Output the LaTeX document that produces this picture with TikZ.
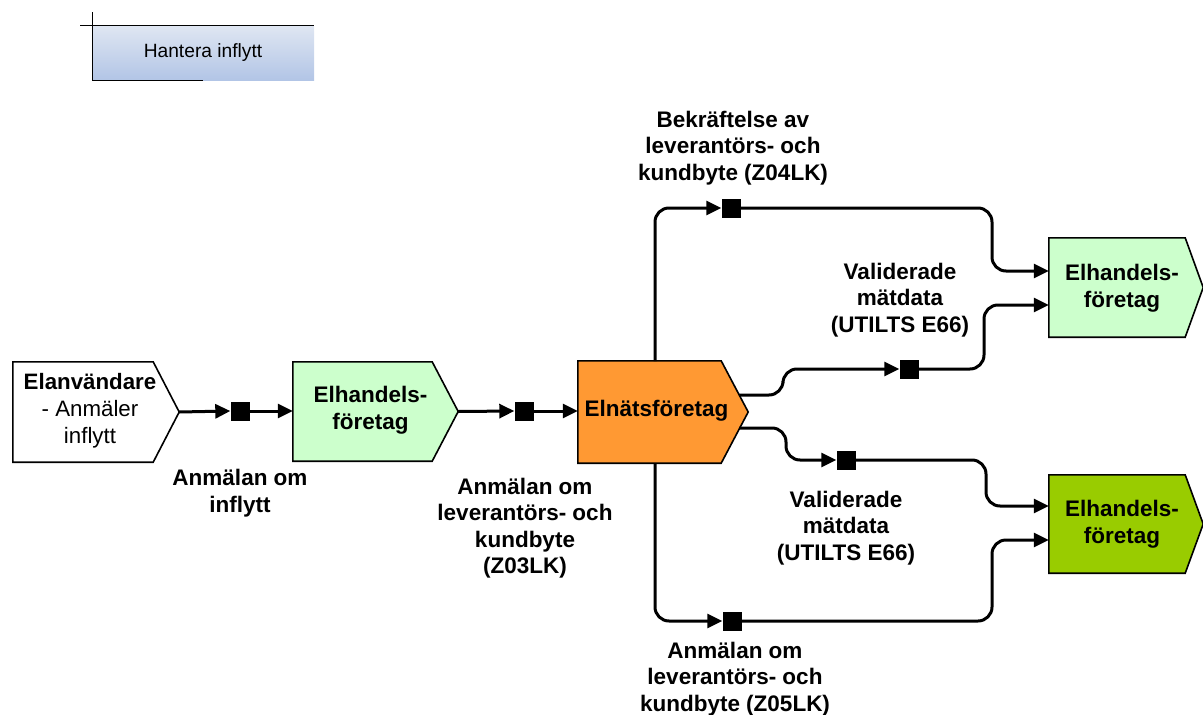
\documentclass[tikz,border=0pt]{standalone}
\usepackage{fontspec}
\setmainfont{Liberation Sans}
\usetikzlibrary{arrows.meta,backgrounds}
\definecolor{lgreen}{HTML}{CCFFCC}
\definecolor{dgreen}{HTML}{99CC00}
\definecolor{orangef}{HTML}{FF9933}
\definecolor{hdtop}{HTML}{DFE6F2}
\definecolor{hdbot}{HTML}{B2C5E6}
\begin{document}
\begin{tikzpicture}[x=1pt,y=-1pt,
  area/.style={rectangle, draw=none, inner sep=0pt},
  shapeline/.style={draw=black, line width=1.6pt, line join=miter},
  conn/.style={line width=3pt, rounded corners=14pt, -{Triangle[length=15pt,width=14pt]}},
  msg/.style={rectangle, fill=black, minimum size=19pt, inner sep=0pt},
  lbl/.style={font=\fontsize{22.5}{26.5}\selectfont\bfseries, align=center, inner sep=0pt},
  btxt/.style={font=\fontsize{22.3}{27}\selectfont, align=center, inner sep=0pt}]
\useasboundingbox (0,0) rectangle (1203,715);

% header
\shade[top color=hdtop, bottom color=hdbot] (92,26) rectangle (314,80);
\node[area, font=\fontsize{19.2}{22}\selectfont] (hdr) at (203,53) {Hantera inflytt};
\draw[line width=1pt] (80,25) -- (314,25);
\draw[line width=1pt] (92,12) -- (92,80) -- (203,80);

% box areas
\node[area, minimum width=166pt, minimum height=100pt] (eu) at (96,412) {};
\node[area, minimum width=165pt, minimum height=99pt] (e1) at (375.5,411.5) {};
\node[area, minimum width=170pt, minimum height=102pt] (en) at (663,412) {};
\node[area, minimum width=154pt, minimum height=99pt] (eA) at (1126,287.5) {};
\node[area, minimum width=154pt, minimum height=98pt] (eB) at (1126,524) {};

% shapes
\draw[shapeline, fill=white] (eu.north west) -- ([xshift=-26pt]eu.north east) -- (eu.east) -- ([xshift=-26pt]eu.south east) -- (eu.south west) -- cycle;
\draw[shapeline, fill=lgreen] (e1.north west) -- ([xshift=-26pt]e1.north east) -- (e1.east) -- ([xshift=-26pt]e1.south east) -- (e1.south west) -- cycle;
\draw[shapeline, fill=orangef] (en.north west) -- ([xshift=-27pt]en.north east) -- (en.east) -- ([xshift=-27pt]en.south east) -- (en.south west) -- cycle;
\draw[shapeline, fill=lgreen] (eA.north west) -- ([xshift=-18pt]eA.north east) -- (eA.east) -- ([xshift=-18pt]eA.south east) -- (eA.south west) -- cycle;
\draw[shapeline, fill=dgreen] (eB.north west) -- ([xshift=-18pt]eB.north east) -- (eB.east) -- ([xshift=-18pt]eB.south east) -- (eB.south west) -- cycle;

% box texts
\node[btxt] (teu) at (90,411) {\textbf{Elanvändare}\\- Anmäler\\inflytt};
\node[lbl] (te1) at (370.5,410) {Elhandels-\\företag};
\node[lbl] (ten) at (656.5,411) {Elnätsföretag};
\node[lbl] (teA) at (1122,288) {Elhandels-\\företag};
\node[lbl] (teB) at (1122,524) {Elhandels-\\företag};

% message squares
\node[msg] (m1) at (240,411) {};
\node[msg] (m2) at (524,411) {};
\node[msg] (m3) at (731,208) {};
\node[msg] (m4) at (909,369) {};
\node[msg] (m5) at (846,460) {};
\node[msg] (m6) at (732,621) {};

% connection points
\coordinate (enT) at (655,361);
\coordinate (enB) at (655,463);
\coordinate (enU) at (739,395);
\coordinate (enL) at (739,428);

% connectors
\draw[conn] (eu.east) -- (m1.west);
\draw[conn] (m1.east) -- (e1.west |- m1);
\draw[conn] (e1.east) -- (m2.west);
\draw[conn] (m2.east) -- (en.west |- m2);

\draw[conn] (enT) |- (m3.west);
\draw[conn] (m3.east) -- (992,208) -- (992,271) -- (eA.west |- 0,271);

\draw[conn] (enU) -- (783,395) -- (783,369) -- (m4.west);
\draw[conn] (m4.east) -- (984,369) -- (984,305) -- (eA.west |- 0,305);

\draw[conn] (enL) -- (786,428) -- (786,460) -- (m5.west);
\draw[conn] (m5.east) -- (986,460) -- (986,506) -- (eB.west |- 0,506);

\draw[conn] (enB) |- (m6.west);
\draw[conn] (m6.east) -- (992,621) -- (992,540) -- (eB.west |- 0,540);

% labels
\node[lbl] (l1) at (240,493) {Anmälan om\\inflytt};
\node[lbl] (l2) at (525,528) {Anmälan om\\leverantörs- och\\kundbyte\\(Z03LK)};
\node[lbl] (l3) at (733,148) {Bekräftelse av\\leverantörs- och\\kundbyte (Z04LK)};
\node[lbl] (l4) at (900,300) {Validerade\\mätdata\\(UTILTS E66)};
\node[lbl] (l5) at (846,528) {Validerade\\mätdata\\(UTILTS E66)};
\node[lbl] (l6) at (735,679) {Anmälan om\\leverantörs- och\\kundbyte (Z05LK)};
\end{tikzpicture}
\end{document}
